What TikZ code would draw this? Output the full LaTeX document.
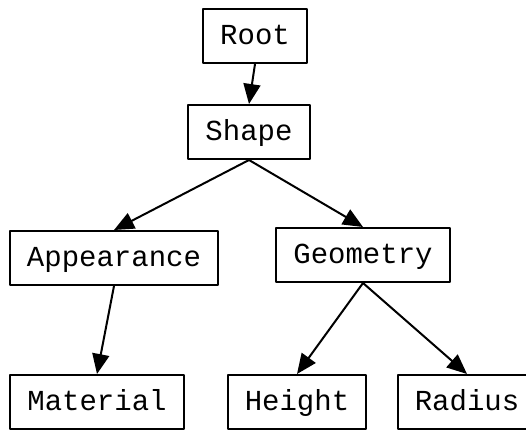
\documentclass[tikz,border=0pt]{standalone}
\usepackage{fontspec}
\setmonofont{Liberation Mono}
\usetikzlibrary{arrows.meta}
\tikzset{box/.style={draw, line width=2pt, minimum height=54pt, inner xsep=17pt,
  text height=16.5pt, text depth=0pt, font=\ttfamily\fontsize{29}{34}\selectfont}}
\begin{document}
\begin{tikzpicture}[x=1pt, y=-1pt, line width=2pt, line join=round, >={Triangle[length=20pt,width=17pt]}]
 \path[clip, use as bounding box] (0,0) rectangle (526,431);
 % tree levels
 \node[box] (root) at (255,36) {Root};
 \node[box] (shape) at (249,132) {Shape};
 \node[box] (appear) at (114,258) {Appearance};
 \node[box] (geom) at (363,255) {Geometry};
 \node[box] (mat) at (97,402) {Material};
 \node[box] (height) at (297,402) {Height};
 \node[box] (radius) at (467,402) {Radius};
 % edges, bottom middle to top middle
 \foreach\a/\b in{root/shape,shape/appear,shape/geom,appear/mat,geom/height,geom/radius}{\draw[->](\a.south)--(\b.north);}
\end{tikzpicture}
\end{document}
